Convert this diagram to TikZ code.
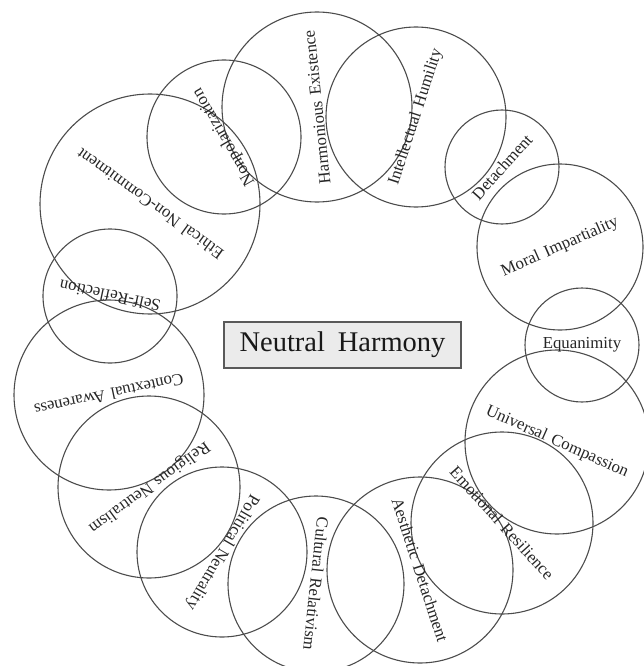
\documentclass[tikz,border=0pt]{standalone}
\usepackage{fontspec}
\setmainfont{Liberation Serif}
\begin{document}
\begin{tikzpicture}[x=1pt,y=-1pt,
  ring/.style={draw=black!70, line width=1.1pt, circle, inner sep=0pt},
  lbl/.style={font=\fontsize{16.8}{18}\selectfont, text=black!85, inner sep=0pt},
  hub/.style={draw=black!65, line width=1.3pt, fill=black!8, inner sep=0pt,
    minimum width=237pt, minimum height=46pt, font=\fontsize{28.5}{30}\selectfont, text=black!90}]
\useasboundingbox (0,0) rectangle (644,666);
\node[hub] (hub) at (342.5,345) {Neutral\hspace{0.45em}Harmony};
% circles
\node[ring, minimum size=114pt] (c1) at (582,345) {};
\node[ring, minimum size=166pt] (c2) at (560,247) {};
\node[ring, minimum size=114pt] (c3) at (502,167) {};
\node[ring, minimum size=180pt] (c4) at (416,117) {};
\node[ring, minimum size=190pt] (c5) at (317,107) {};
\node[ring, minimum size=154pt] (c6) at (224,137) {};
\node[ring, minimum size=220pt] (c7) at (150,204) {};
\node[ring, minimum size=134pt] (c8) at (110,296) {};
\node[ring, minimum size=190pt] (c9) at (109,395) {};
\node[ring, minimum size=182pt] (c10) at (149,487) {};
\node[ring, minimum size=170pt] (c11) at (222,552) {};
\node[ring, minimum size=176pt] (c12) at (316,584) {};
\node[ring, minimum size=186pt] (c13) at (420,570) {};
\node[ring, minimum size=182pt] (c14) at (502,523) {};
\node[ring, minimum size=184pt] (c15) at (557,442) {};
% labels
\node[lbl, rotate=0]   (t1)  at (c1)  {Equanimity};
\node[lbl, rotate=24]  (t2)  at (c2)  {Moral\hspace{0.35em}Impartiality};
\node[lbl, rotate=48]  (t3)  at (c3)  {Detachment};
\node[lbl, rotate=72]  (t4)  at (c4)  {Intellectual\hspace{0.35em}Humility};
\node[lbl, rotate=96]  (t5)  at (c5)  {Harmonious\hspace{0.35em}Existence};
\node[lbl, rotate=120] (t6)  at (c6)  {Nonpolarization};
\node[lbl, rotate=144] (t7)  at (c7)  {Ethical\hspace{0.35em}Non-Commitment};
\node[lbl, rotate=168] (t8)  at (c8)  {Self-Reflection};
\node[lbl, rotate=192] (t9)  at (c9)  {Contextual\hspace{0.35em}Awareness};
\node[lbl, rotate=216] (t10) at (c10) {Religious\hspace{0.35em}Neutralism};
\node[lbl, rotate=240] (t11) at (c11) {Political\hspace{0.35em}Neutrality};
\node[lbl, rotate=264] (t12) at (c12) {Cultural\hspace{0.35em}Relativism};
\node[lbl, rotate=288] (t13) at (c13) {Aesthetic\hspace{0.35em}Detachment};
\node[lbl, rotate=312] (t14) at (c14) {Emotional\hspace{0.35em}Resilience};
\node[lbl, rotate=336] (t15) at (c15) {Universal\hspace{0.35em}Compassion};
\end{tikzpicture}
\end{document}
